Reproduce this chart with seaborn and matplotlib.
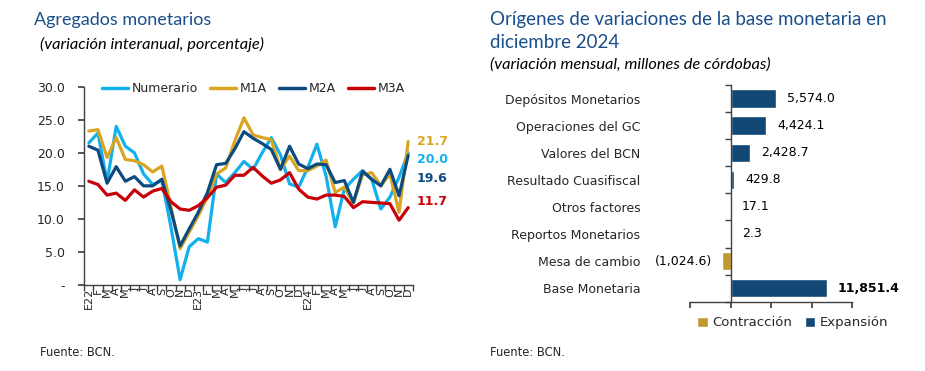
import numpy as np
import pandas as pd
import matplotlib
matplotlib.use("Agg")
import matplotlib.pyplot as plt
import seaborn as sns

# --- datos: agregados monetarios (variacion interanual, %) ---
meses = ["E22", "F", "M", "A", "M", "J", "J", "A", "S", "O", "N", "D",
         "E23", "F", "M", "A", "M", "J", "J", "A", "S", "O", "N", "D",
         "E24", "F", "M", "A", "M", "J", "J", "A", "S", "O", "N", "D"]
numerario = [21.5, 23.0, 15.6, 24.0, 21.0, 20.0, 16.8, 15.2, 15.8, 8.8, 0.8, 5.8,
             7.0, 6.5, 16.8, 15.5, 17.0, 18.7, 17.5, 20.0, 22.3, 19.7, 15.3, 14.8,
             17.8, 21.3, 16.5, 8.8, 14.5, 16.0, 17.3, 16.0, 11.5, 13.3, 16.3, 20.0]
m1a = [23.3, 23.5, 19.3, 22.3, 19.0, 18.8, 18.2, 17.1, 18.0, 11.8, 5.5, 8.0,
       10.5, 13.3, 16.8, 17.7, 21.8, 25.3, 22.7, 22.3, 22.0, 17.5, 19.5, 17.3,
       17.3, 18.0, 18.9, 14.0, 14.8, 12.4, 16.7, 17.0, 15.0, 16.8, 11.0, 21.7]
m2a = [21.0, 20.4, 15.4, 17.9, 15.7, 16.4, 15.0, 15.0, 16.0, 11.3, 5.9, 8.5,
       11.0, 14.0, 18.2, 18.4, 20.6, 23.2, 22.2, 21.4, 20.5, 17.5, 21.0, 18.3,
       17.6, 18.3, 18.2, 15.5, 15.8, 12.5, 17.2, 16.0, 15.0, 17.5, 13.5, 19.6]
m3a = [15.7, 15.2, 13.6, 13.9, 12.8, 14.4, 13.3, 14.2, 14.6, 12.6, 11.5, 11.3,
       12.0, 13.2, 14.8, 15.1, 16.6, 16.6, 17.8, 16.5, 15.4, 15.9, 17.0, 14.5,
       13.3, 13.0, 13.6, 13.6, 13.4, 11.7, 12.6, 12.5, 12.4, 12.3, 9.8, 11.7]
series = ["Numerario", "M1A", "M2A", "M3A"]
colores = {"Numerario": "#12B0EC", "M1A": "#DAA520", "M2A": "#0D4A80", "M3A": "#C8000A"}

# --- datos: origenes de variacion de la base monetaria ---
componentes = ["Depósitos Monetarios", "Operaciones del GC", "Valores del BCN",
               "Resultado Cuasifiscal", "Otros factores", "Reportos Monetarios",
               "Mesa de cambio", "Base Monetaria"]
variacion = [5574.0, 4424.1, 2428.7, 429.8, 17.1, 2.3, -1024.6, 11851.4]

sns.set_theme(style="white")
plt.rcParams["font.family"] = ["DejaVu Sans"]
eje_color = "#404040"
titulo_color = "#1B4F8A"

fig = plt.figure(figsize=(9.25, 3.71), dpi=100)

# ================= panel izquierdo =================
ax1 = fig.add_axes([0.0911, 0.2318, 0.3551, 0.5345])
df = pd.DataFrame({"mes": np.tile(np.arange(len(meses)), 4),
                   "valor": numerario + m1a + m2a + m3a,
                   "serie": np.repeat(series, len(meses))})
sns.lineplot(data=df, x="mes", y="valor", hue="serie", hue_order=series,
             palette=colores, linewidth=2.3, ax=ax1, legend=True)
for ln in ax1.lines:
    ln.set_solid_joinstyle("round")
    ln.set_solid_capstyle("round")

ax1.set_xlim(-0.5, len(meses) - 0.5)
ax1.set_ylim(0, 30)
ax1.set_yticks(np.arange(0, 31, 5))
ax1.set_yticklabels(["-"] + [f"{v:.1f}" for v in np.arange(5, 31, 5)], fontsize=9)
ax1.set_xticks(np.arange(len(meses)))
ax1.set_xticklabels(meses, rotation=90, fontsize=8)
ax1.set_xticks(np.arange(-0.5, len(meses)), minor=True)
ax1.tick_params(axis="x", which="major", length=0, pad=2)
ax1.tick_params(axis="x", which="minor", length=4, direction="out", color=eje_color, bottom=True)
ax1.tick_params(axis="y", length=4, direction="out", color=eje_color, left=True, pad=10)
ax1.set_xlabel("")
ax1.set_ylabel("")
for s in ["top", "right"]:
    ax1.spines[s].set_visible(False)
for s in ["left", "bottom"]:
    ax1.spines[s].set_color(eje_color)
    ax1.spines[s].set_linewidth(1.0)

leg = ax1.legend(loc="center", bbox_to_anchor=(0.515, 0.99), ncol=4, frameon=False,
                 fontsize=9, handlelength=2.1, columnspacing=1.0, handletextpad=0.25)
for h in leg.get_lines():
    h.set_linewidth(2.5)

# etiquetas del ultimo dato
desfases = {"Numerario": -7, "M1A": 0, "M2A": -23, "M3A": 6}
for nombre, valores in zip(series, [numerario, m1a, m2a, m3a]):
    ax1.annotate(f"{valores[-1]:.1f}", xy=(len(meses) - 0.5, valores[-1]),
                 xytext=(3, desfases[nombre] * 0.72), textcoords="offset points",
                 ha="left", va="center", fontsize=9, fontweight="bold",
                 color=colores[nombre], annotation_clip=False)

# ================= panel derecho =================
ax2 = fig.add_axes([0.7459, 0.1868, 0.1755, 0.5841])
dfb = pd.DataFrame({"componente": componentes, "variacion": variacion})
dfb["tipo"] = np.where(dfb["variacion"] < 0, "Contracción", "Expansión")
sns.barplot(data=dfb, y="componente", x="variacion", hue="tipo",
            hue_order=["Contracción", "Expansión"],
            palette={"Contracción": "#D9A418", "Expansión": "#004A87"},
            dodge=False, width=0.68, orient="h", ax=ax2, legend=True)

ax2.set_xlim(-5000, 15000)
ax2.set_ylim(len(componentes) - 0.5, -0.5)
ax2.set_xticks([-5000, 0, 5000, 10000, 15000])
ax2.set_xticklabels([])
ax2.tick_params(axis="x", length=4, direction="out", color=eje_color, bottom=True)
ax2.spines["left"].set_position(("data", 0))
ax2.set_yticks(np.arange(len(componentes)))
ax2.set_yticklabels(componentes, fontsize=9)
ax2.set_yticks(np.arange(-0.5, len(componentes)), minor=True)
ax2.tick_params(axis="y", which="major", length=0, pad=65)
ax2.tick_params(axis="y", which="minor", length=4, direction="out", color=eje_color, left=True)
ax2.set_xlabel("")
ax2.set_ylabel("")
for s in ["top", "right"]:
    ax2.spines[s].set_visible(False)
for s in ["left", "bottom"]:
    ax2.spines[s].set_color(eje_color)
    ax2.spines[s].set_linewidth(1.0)

for i, v in enumerate(variacion):
    if v < 0:
        txt, dx, ha = f"({abs(v):,.1f})", -7, "right"
    else:
        txt, dx, ha = f"{v:,.1f}", 8, "left"
    peso = "bold" if componentes[i] == "Base Monetaria" else "normal"
    ax2.annotate(txt, xy=(v, i), xytext=(dx, 0), textcoords="offset points",
                 ha=ha, va="center", fontsize=9, fontweight=peso, color="black",
                 annotation_clip=False)

ax2.legend(loc="center", bbox_to_anchor=(0.632, -0.098), ncol=2, frameon=False,
           fontsize=9.5, handlelength=0.8, handleheight=0.8, handletextpad=0.3,
           columnspacing=1.0)

# ================= textos =================
fig.text(34 / 925, 1 - 20 / 371, "Agregados monetarios", family="Lato",
         fontsize=13, color=titulo_color, va="center", ha="left")
fig.text(40 / 925, 1 - 44 / 371, "(variación interanual, porcentaje)", family="Lato",
         fontsize=11.8, style="italic", color="black", va="center", ha="left")
fig.text(490 / 925, 1 - 20 / 371, "Orígenes de variaciones de la base monetaria en",
         family="Lato", fontsize=13.5, color=titulo_color, va="center", ha="left")
fig.text(490 / 925, 1 - 43 / 371, "diciembre 2024", family="Lato",
         fontsize=13.5, color=titulo_color, va="center", ha="left")
fig.text(490 / 925, 1 - 65 / 371, "(variación mensual, millones de córdobas)",
         family="Lato", fontsize=11.8, style="italic", color="black", va="center", ha="left")
fig.text(40 / 925, 1 - 352 / 371, "Fuente: BCN.", fontsize=8.3, va="center", ha="left")
fig.text(490 / 925, 1 - 352 / 371, "Fuente: BCN.", fontsize=8.3, va="center", ha="left")

fig.savefig("out.png", dpi=100)
